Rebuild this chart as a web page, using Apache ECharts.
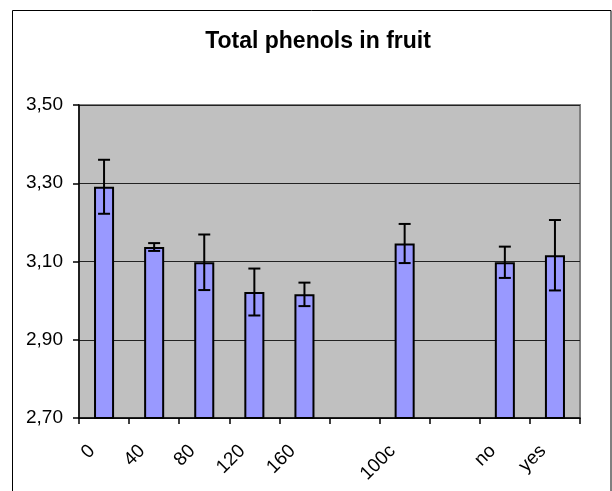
<!DOCTYPE html>
<html>
<head>
<meta charset="utf-8">
<script src="https://cdn.jsdelivr.net/npm/echarts@6/dist/echarts.min.js"></script>
<style>
  html, body { margin: 0; padding: 0; background: #fff; }
  #chart { width: 612px; height: 491px; }
</style>
</head>
<body>
<div id="chart"></div>
<script>
// data
const categories = ['0', '40', '80', '120', '160', '', '100c', '', 'no', 'yes']
const means = [3.291, 3.137, 3.098, 3.022, 3.016, null, 3.146, null, 3.098, 3.116]
const errors = [0.069, 0.010, 0.071, 0.060, 0.030, null, 0.050, null, 0.040, 0.090]
const yTicks = [2.7, 2.9, 3.1, 3.3, 3.5]

const font = 'Arial, "Liberation Sans", sans-serif'

const barData = means.map(v => (v == null ? '-' : v))
const errData = []
means.forEach((v, i) => {
  if (v != null) errData.push([i, v - errors[i], v + errors[i]])
})

const chart = echarts.init(document.getElementById('chart'))

chart.setOption({
  animation: false,
  backgroundColor: '#fff',
  title: {
    text: 'Total phenols in fruit',
    left: 313,
    textAlign: 'center',
    top: 25,
    textStyle: { fontFamily: font, fontSize: 23, fontWeight: 'bold', color: '#000' }
  },
  graphic: [{
    // outer chart frame
    type: 'rect',
    shape: { x: 12.5, y: 10.5, width: 598.5, height: 500 },
    style: { fill: 'none', stroke: '#000', lineWidth: 1 },
    silent: true
  }],
  grid: {
    left: 79,
    right: 32,
    top: 105,
    bottom: 73,
    show: true,
    backgroundColor: '#C0C0C0',
    borderColor: '#808080',
    borderWidth: 2
  },
  xAxis: {
    type: 'category',
    data: categories,
    boundaryGap: true,
    axisLine: { lineStyle: { color: '#000', width: 1.5 } },
    axisTick: { show: true, length: 6, inside: false, lineStyle: { color: '#000', width: 1.5 } },
    axisLabel: {
      interval: 0,
      rotate: 45,
      margin: 18,
      padding: [0, 17, 0, 0],
      color: '#000',
      fontFamily: font,
      fontSize: 19
    },
    splitLine: { show: false }
  },
  yAxis: {
    type: 'value',
    min: 2.7,
    max: 3.5,
    axisLine: { show: true, lineStyle: { color: '#000', width: 1.5 } },
    axisTick: { show: true, length: 6, customValues: yTicks, lineStyle: { color: '#000', width: 1.5 } },
    axisLabel: {
      customValues: yTicks,
      margin: 16,
      color: '#000',
      fontFamily: font,
      fontSize: 19,
      formatter: v => v.toFixed(2).replace('.', ',')
    },
    splitLine: { show: true, lineStyle: { color: '#222', width: 1.2 } }
  },
  series: [{
    type: 'bar',
    data: barData,
    barWidth: '40%',
    itemStyle: { color: '#9999FF', borderColor: '#000', borderWidth: 2 }
  }, {
    type: 'custom',
    data: errData,
    z: 10,
    renderItem(params, api) {
      const x = api.value(0)
      const lo = api.coord([x, api.value(1)])
      const hi = api.coord([x, api.value(2)])
      const w = 6
      const st = { stroke: '#000', lineWidth: 2 }
      return {
        type: 'group',
        children: [
          { type: 'line', shape: { x1: hi[0], y1: hi[1], x2: lo[0], y2: lo[1] }, style: st },
          { type: 'line', shape: { x1: hi[0] - w, y1: hi[1], x2: hi[0] + w, y2: hi[1] }, style: st },
          { type: 'line', shape: { x1: lo[0] - w, y1: lo[1], x2: lo[0] + w, y2: lo[1] }, style: st }
        ]
      }
    }
  }]
})
</script>
</body>
</html>
